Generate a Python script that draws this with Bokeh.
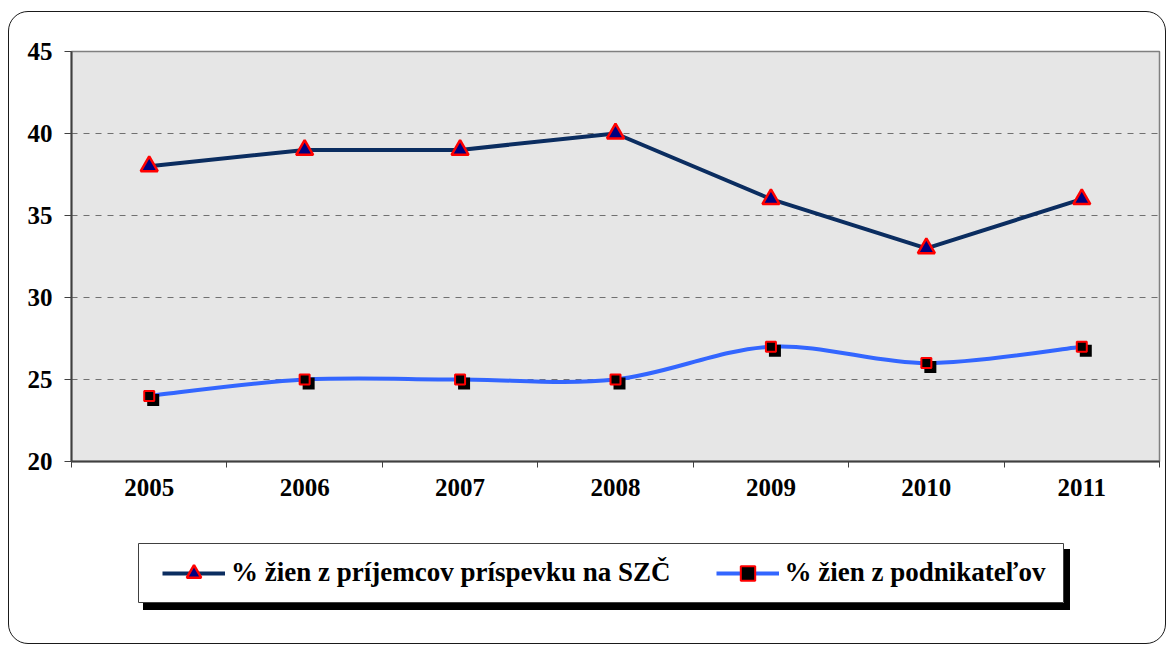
from bokeh.plotting import figure
from bokeh.layouts import column
from bokeh.models import Range1d, FixedTicker, Legend, LegendItem
from bokeh.embed import file_html
from bokeh.resources import INLINE

# ---- data ----
years = ["2005", "2006", "2007", "2008", "2009", "2010", "2011"]
szc_share = [38, 39, 39, 40, 36, 33, 36]          # % žien z príjemcov príspevku na SZČ
entrepreneur_share = [24, 25, 25, 25, 27, 26, 27]  # % žien z podnikateľov
y_ticks = [20, 25, 30, 35, 40, 45]
label_szc = "% žien z príjemcov príspevku na SZČ"
label_ent = "% žien z podnikateľov"

# ---- styling / geometry ----
W, H = 1156, 500
ML, MR, MT, MB = 62, 6, 39, 51
NAVY_LINE = "#0b2d60"
NAVY_FILL = "#000080"
BLUE = "#3366ff"
RED = "#ff0000"
FONT = "Liberation Serif"

xs = list(range(len(years)))
x_start, x_end = -0.5, len(years) - 0.5
y_start, y_end = y_ticks[0], y_ticks[-1]

p = figure(width=W, height=H, output_backend="svg", toolbar_location=None,
           x_range=Range1d(x_start, x_end), y_range=Range1d(y_start, y_end),
           min_border_left=ML, min_border_right=MR, min_border_top=MT, min_border_bottom=MB)
p.background_fill_color = "#e6e6e6"
p.border_fill_color = None
p.outline_line_color = "#808080"
p.outline_line_width = 1.5

frame_w = W - ML - MR
frame_h = H - MT - MB
px_x = frame_w / (x_end - x_start)
px_y = frame_h / (y_end - y_start)

# axes
p.xaxis.ticker = FixedTicker(ticks=xs, minor_ticks=[i - 0.5 for i in range(len(years) + 1)])
p.xaxis.major_label_overrides = {i: y for i, y in enumerate(years)}
p.xaxis.major_tick_line_color = None
p.xaxis.major_tick_out = 6
p.xaxis.major_tick_in = 0
p.xaxis.minor_tick_out = 6
p.xaxis.minor_tick_in = 0
p.xaxis.minor_tick_line_color = "#404040"
p.xaxis.major_label_standoff = 11

p.yaxis.ticker = FixedTicker(ticks=y_ticks)
p.yaxis.major_tick_out = 7
p.yaxis.major_tick_in = 0
p.yaxis.minor_tick_line_color = None
p.yaxis.major_tick_line_color = "#404040"
p.yaxis.major_label_standoff = 12

for ax in (p.xaxis, p.yaxis):
    ax.axis_line_color = "#404040"
    ax.axis_line_width = 2
    ax.major_label_text_font = FONT
    ax.major_label_text_font_style = "bold"
    ax.major_label_text_font_size = "25px"
    ax.major_label_text_color = "black"

p.xgrid.visible = False
p.ygrid.ticker = FixedTicker(ticks=y_ticks[1:-1])
p.ygrid.grid_line_color = "#707070"
p.ygrid.grid_line_dash = "6 6"
p.ygrid.grid_line_width = 1

# ---- series 1: straight line with triangles ----
p.line(xs, szc_share, line_color=NAVY_LINE, line_width=4)
p.scatter(xs, szc_share, marker="triangle", size=17, fill_color=NAVY_FILL,
          line_color=RED, line_width=2.5)

# ---- series 2: smoothed line (Bezier through the data points) with squares ----
n = len(xs)
bx0, by0, bx1, by1, bcx0, bcy0, bcx1, bcy1 = [], [], [], [], [], [], [], []
for i in range(n - 1):
    a = i - 1 if i > 0 else i
    d = i + 2 if i + 2 < n else i + 1
    bx0.append(xs[i]); by0.append(entrepreneur_share[i])
    bx1.append(xs[i + 1]); by1.append(entrepreneur_share[i + 1])
    bcx0.append(xs[i] + (xs[i + 1] - xs[a]) / 6)
    bcy0.append(entrepreneur_share[i] + (entrepreneur_share[i + 1] - entrepreneur_share[a]) / 6)
    bcx1.append(xs[i + 1] - (xs[d] - xs[i]) / 6)
    bcy1.append(entrepreneur_share[i + 1] - (entrepreneur_share[d] - entrepreneur_share[i]) / 6)
p.bezier(x0=bx0, y0=by0, x1=bx1, y1=by1, cx0=bcx0, cy0=bcy0, cx1=bcx1, cy1=bcy1,
         line_color=BLUE, line_width=4)

# marker shadows (4px right / down)
sh = 4
p.scatter([x + sh / px_x for x in xs], [v - sh / px_y for v in entrepreneur_share],
          marker="square", size=12, fill_color="black", line_color=None)
p.scatter(xs, entrepreneur_share, marker="square", size=10, fill_color="black",
          line_color=RED, line_width=2)

# ---- legend in its own boxed panel with a drop shadow ----
LW, LH = 927, 61
pl = figure(width=LW, height=LH, output_backend="svg", toolbar_location=None,
            x_axis_type=None, y_axis_type=None,
            x_range=Range1d(-20, -10), y_range=Range1d(-20, -10),
            min_border_left=1, min_border_right=1, min_border_top=1, min_border_bottom=1)
for fig in (p, pl):
    try:
        fig.frame_align = False
    except Exception:
        pass
pl.xgrid.visible = False
pl.ygrid.visible = False
pl.outline_line_color = "#404040"
pl.outline_line_width = 1
pl.background_fill_color = "white"
pl.border_fill_color = "white"
# legend glyph sources: same series, kept outside this panel's visible range
l1 = pl.line(xs, szc_share, line_color=NAVY_LINE, line_width=4)
m1 = pl.scatter(xs, szc_share, marker="triangle", fill_color=NAVY_FILL, line_color=RED, line_width=2.5)
l2 = pl.line(xs, entrepreneur_share, line_color=BLUE, line_width=4)
m2 = pl.scatter(xs, entrepreneur_share, marker="square", fill_color="black", line_color=RED, line_width=2)
legend = Legend(items=[LegendItem(label=label_szc, renderers=[l1, m1]),
                       LegendItem(label=label_ent, renderers=[l2, m2])],
                orientation="horizontal", location="left",
                glyph_width=63, glyph_height=36, label_standoff=6, spacing=45,
                padding=0, margin=24, border_line_color=None, background_fill_alpha=0,
                label_text_font=FONT, label_text_font_style="bold",
                label_text_font_size="27px", label_text_color="black")
pl.add_layout(legend)
pl.margin = (30, 0, 40, 128)
pl.styles = {"box-shadow": "6px 7px 0px 0px black"}
p.margin = (0, 0, 0, 0)

root = column(p, pl, spacing=0)
root.margin = (11, 0, 0, 8)
root.styles = {"border": "1.5px solid #1a1a1a", "border-radius": "20px"}

open("out.html", "w").write(file_html(root, INLINE))
